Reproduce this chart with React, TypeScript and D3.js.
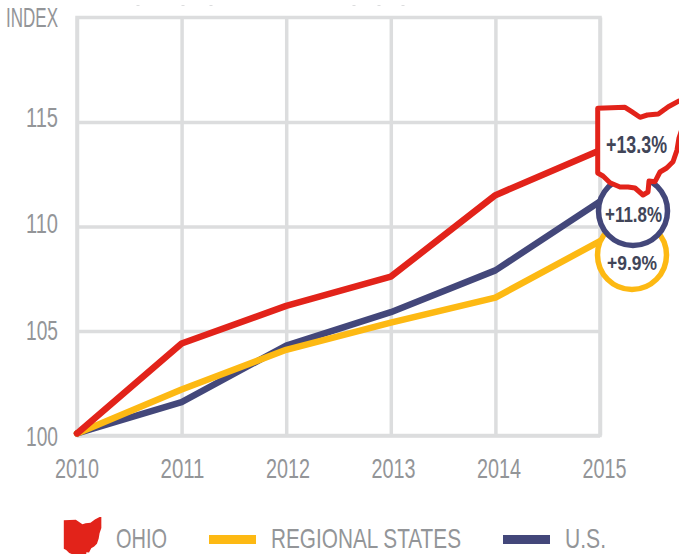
import { axisBottom, axisLeft, curveLinear, line, scaleLinear, select } from "d3";
import React, { useEffect, useRef } from "react";

const years = [2010, 2011, 2012, 2013, 2014, 2015];
const ohio = [100.1, 104.4, 106.2, 107.6, 111.5, 113.65];
const regional = [100.1, 102.2, 104.1, 105.4, 106.6, 109.3];
const us = [100.1, 101.6, 104.3, 105.9, 107.9, 111.2];
const yTicks = [100, 105, 110, 115];

const RED = "#e2231a";
const YELLOW = "#fdb913";
const NAVY = "#43477a";
const GRID = "#dcddde";
const GREY = "#939598";
const DARK = "#414558";
const FONT = "'Liberation Sans Narrow', 'Liberation Sans', sans-serif";

// state outline, drawn with its top left corner at 0,0
const ohioShape =
  "M0.7 7.3 L28 6.3 L34.7 10.7 L43 16.3 L50.3 14 L61.3 13 L71.3 5.7 L82 0 L86 0 L86 25 L82 37 L80 49 L76 60.7 L69.7 67 L63 71 L58 80.7 L52 80 L51 91 L46 94 L38 87 L31 86 L23 86 L13 81.7 L6 75 L0.7 72 Z";

// cut off remains of a line of text above the chart
const topSpecks = [138, 183, 211, 354, 379, 403];

export default function App() {
  const svgRef = useRef<SVGSVGElement>(null);

  useEffect(() => {
    const svg = select(svgRef.current);
    svg.selectAll("*").remove();

    const x = scaleLinear().domain([2010, 2015]).range([77, 600]);
    const y = scaleLinear().domain([100, 120]).range([435.5, 17.5]);
    // the labels do not sit exactly on their gridlines in the original
    const xLabel = scaleLinear().domain([2010, 2015]).range([76.5, 604]);
    const yLabel = scaleLinear().domain([100, 115]).range([436, 116.5]);

    svg
      .selectAll(".speck")
      .data(topSpecks)
      .join("rect")
      .attr("class", "speck")
      .attr("x", (d) => d - 1.5)
      .attr("y", 5)
      .attr("width", 3)
      .attr("height", 1)
      .attr("fill", GRID);

    svg
      .append("rect")
      .attr("x", x(2010))
      .attr("y", y(120))
      .attr("width", x(2015) - x(2010))
      .attr("height", y(100) - y(120))
      .attr("fill", "none")
      .attr("stroke", GRID)
      .attr("stroke-width", 3.5);

    const gx = svg
      .append("g")
      .attr("transform", `translate(0,${y(100)})`)
      .call(
        axisBottom(x)
          .tickValues(years)
          .tickSize(-(y(100) - y(120)))
          .tickFormat((d) => String(d))
      );
    const gy = svg
      .append("g")
      .attr("transform", `translate(${x(2010)},0)`)
      .call(
        axisLeft(y)
          .tickValues(yTicks)
          .tickSize(-(x(2015) - x(2010)))
      );
    [gx, gy].forEach((g) => {
      g.select(".domain").remove();
      g.selectAll("line").attr("stroke", GRID).attr("stroke-width", 3.5);
      g.selectAll("text")
        .attr("fill", GREY)
        .style("font-family", FONT)
        .style("font-size", "28px");
    });
    gx.selectAll("text")
      .attr("text-anchor", "middle")
      .attr("x", (d: any) => xLabel(d) - x(d))
      .attr("y", 0)
      .attr("dy", 0)
      .attr("transform", "translate(0,42.5)")
      .attr("textLength", 44)
      .attr("lengthAdjust", "spacingAndGlyphs");
    gy.selectAll("text")
      .attr("x", 58 - x(2010))
      .attr("y", (d: any) => yLabel(d) - y(d))
      .attr("dy", "0.345em")
      .attr("textLength", 32)
      .attr("lengthAdjust", "spacingAndGlyphs");

    svg
      .append("text")
      .attr("x", 6)
      .attr("y", 27)
      .attr("fill", GREY)
      .attr("textLength", 52)
      .attr("lengthAdjust", "spacingAndGlyphs")
      .style("font-family", FONT)
      .style("font-size", "27px")
      .text("INDEX");

    const path = line<number>()
      .x((d, i) => x(years[i]))
      .y((d) => y(d))
      .curve(curveLinear);

    [
      { values: us, color: NAVY },
      { values: regional, color: YELLOW },
      { values: ohio, color: RED },
    ].forEach((s) => {
      svg
        .append("path")
        .attr("d", path(s.values))
        .attr("fill", "none")
        .attr("stroke", s.color)
        .attr("stroke-width", 6.5)
        .attr("stroke-linejoin", "round")
        .attr("stroke-linecap", "round");
    });

    // end of line badges
    const badges = [
      { cx: 632, cy: 255, color: YELLOW },
      { cx: 633, cy: 211, color: NAVY },
    ];
    badges.forEach((b) => {
      svg
        .append("circle")
        .attr("cx", b.cx)
        .attr("cy", b.cy)
        .attr("r", 34.5)
        .attr("fill", "#fff")
        .attr("stroke", b.color)
        .attr("stroke-width", 5.5);
    });
    svg
      .append("path")
      .attr("d", ohioShape)
      .attr("transform", "translate(597,101)")
      .attr("fill", "#fff")
      .attr("stroke", RED)
      .attr("stroke-width", 5)
      .attr("stroke-linejoin", "round");

    const badgeText = [
      { label: "+13.3%", cx: 636.5, by: 153, w: 61, size: 23 },
      { label: "+11.8%", cx: 633.5, by: 222, w: 57, size: 22 },
      { label: "+9.9%", cx: 632, by: 270, w: 50, size: 21 },
    ];
    badgeText.forEach((t) => {
      svg
        .append("text")
        .attr("x", t.cx)
        .attr("y", t.by)
        .attr("text-anchor", "middle")
        .attr("fill", DARK)
        .attr("textLength", t.w)
        .attr("lengthAdjust", "spacingAndGlyphs")
        .style("font-family", FONT)
        .style("font-size", `${t.size}px`)
        .style("font-weight", 700)
        .text(t.label);
    });

    // legend
    svg
      .append("path")
      .attr("d", ohioShape)
      .attr("transform", "translate(63.5,517) scale(0.44)")
      .attr("fill", RED);
    [209, 503].forEach((lx, i) => {
      svg
        .append("rect")
        .attr("x", lx)
        .attr("y", 535)
        .attr("width", 47)
        .attr("height", 9)
        .attr("fill", i === 0 ? YELLOW : NAVY);
    });
    [
      { label: "OHIO", lx: 116, w: 51 },
      { label: "REGIONAL STATES", lx: 271, w: 190 },
      { label: "U.S.", lx: 565, w: 41 },
    ].forEach((t) => {
      svg
        .append("text")
        .attr("x", t.lx)
        .attr("y", 547.8)
        .attr("fill", GREY)
        .attr("textLength", t.w)
        .attr("lengthAdjust", "spacingAndGlyphs")
        .style("font-family", FONT)
        .style("font-size", "28px")
        .text(t.label);
    });
  }, []);

  return (
    <svg
      ref={svgRef}
      width={679}
      height={554}
      style={{ position: "absolute", left: 0, top: 0, background: "#fff" }}
    />
  );
}
